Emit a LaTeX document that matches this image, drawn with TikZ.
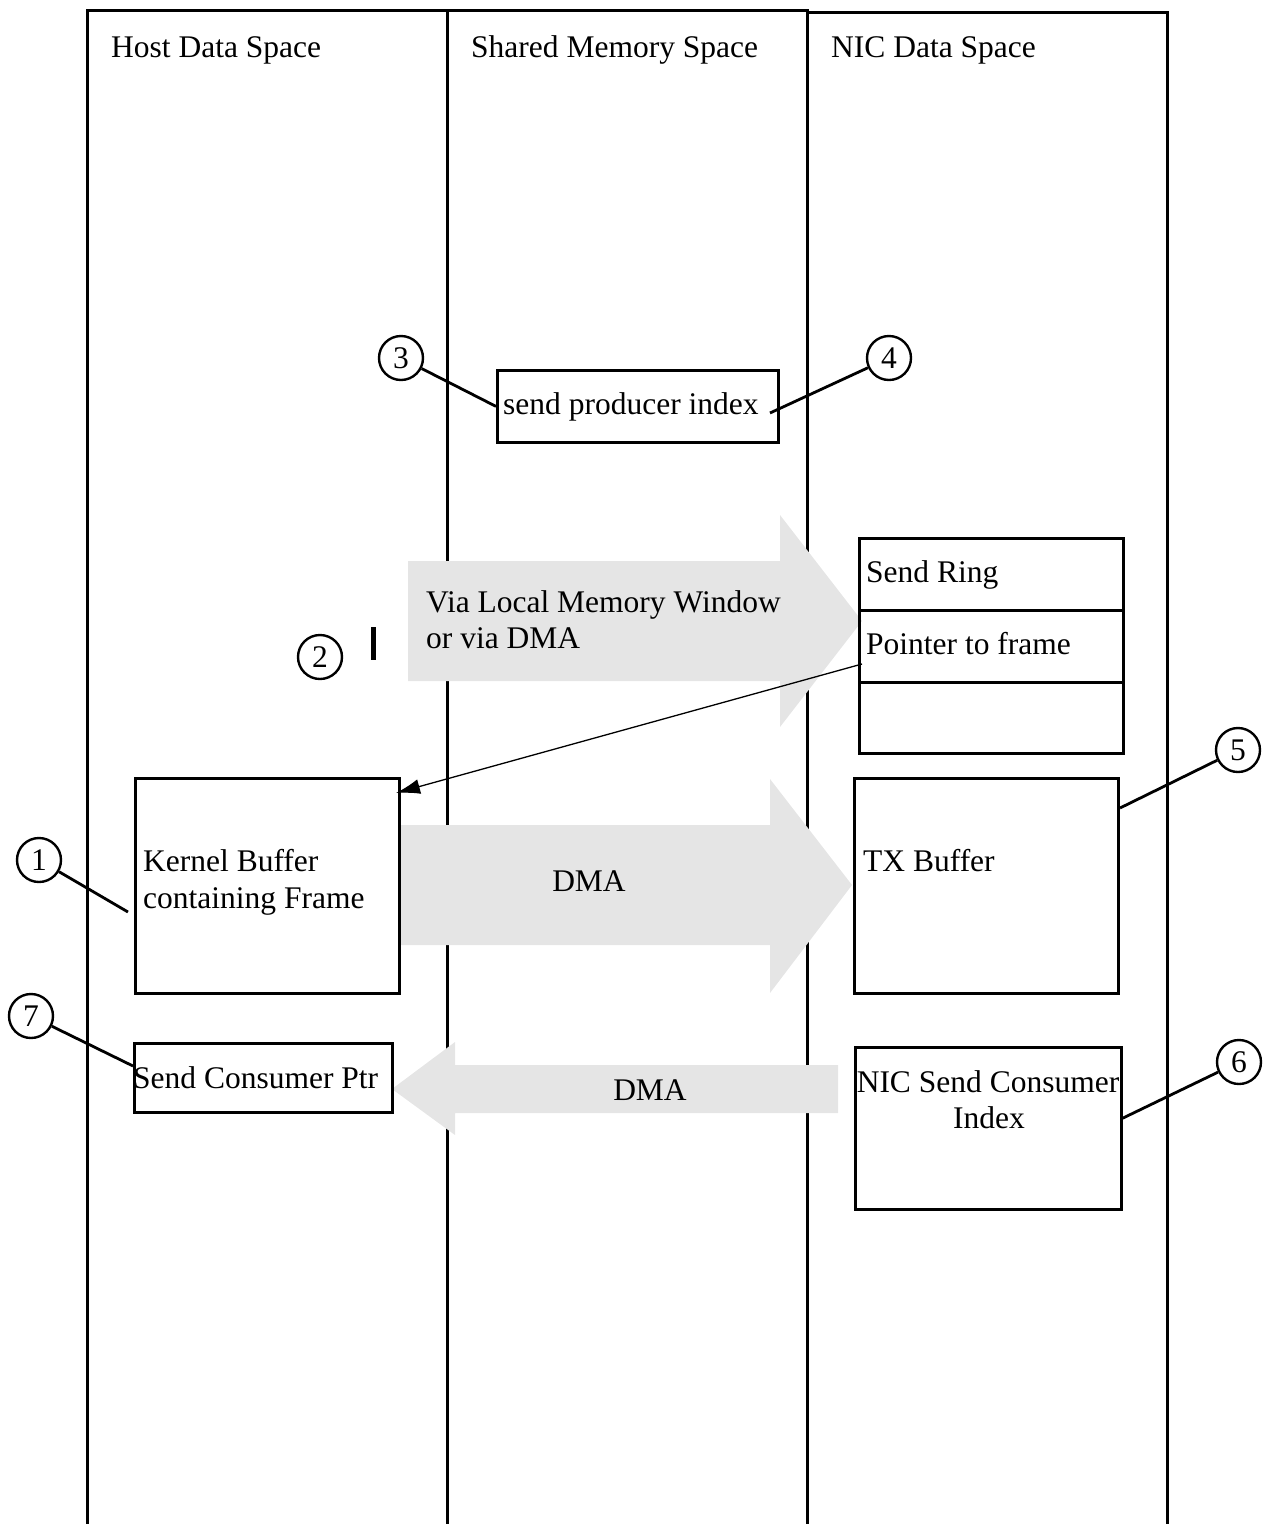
\documentclass[tikz,border=0pt]{standalone}
\usepackage{fontspec}
\setmainfont{Liberation Serif}
\usetikzlibrary{arrows.meta}
\definecolor{arrowgrey}{RGB}{229,229,229}
\tikzset{
  lane/.style={line width=3pt},
  boxed/.style={draw, line width=2.8pt, rectangle, inner sep=0pt, anchor=north west},
  txt/.style={anchor=base west, inner sep=0pt, font=\fontsize{31.5}{37}\selectfont},
  ctxt/.style={anchor=base, inner sep=0pt, font=\fontsize{31.5}{37}\selectfont},
  num/.style={draw, circle, line width=2.4pt, minimum size=44pt, inner sep=0pt, font=\fontsize{31.5}{37}\selectfont},
  callout/.style={line width=2.8pt},
  bigarrow/.style={fill=arrowgrey, draw=none},
  ptr/.style={line width=1.3pt, -{Latex[length=24pt,width=15pt]}}
}
\begin{document}
\begin{tikzpicture}[x=1pt,y=-1pt]
\useasboundingbox (0,0) rectangle (1270,1524);
% lanes
\draw[lane] (87,1524) -- (87,10) -- (447,10) -- (447,1524);
\draw[lane] (447,10) -- (807,10) -- (807,1524);
\draw[lane] (807,12) -- (1167,12) -- (1167,1524);
\node[txt] (h1) at (111,57) {Host Data Space};
\node[txt] (h2) at (471,57) {Shared Memory Space};
\node[txt] (h3) at (831,57) {NIC Data Space};

% grey arrows
\path[bigarrow] (408,561) -- (780,561) -- (780,515) -- (862,621) -- (780,727) -- (780,681) -- (408,681) -- cycle;
\path[bigarrow] (399,825) -- (770,825) -- (770,779) -- (852,885) -- (770,993) -- (770,945) -- (399,945) -- cycle;
\path[bigarrow] (838,1065) -- (455,1065) -- (455,1042) -- (392,1089) -- (455,1135) -- (455,1113) -- (838,1113) -- cycle;
\node[txt] (via1) at (426,612) {Via Local Memory Window};
\node[txt] (via2) at (426,648) {or via DMA};
\node[ctxt] (dma1) at (589,891) {DMA};
\node[ctxt] (dma2) at (650,1100) {DMA};

% boxes
\node[boxed, minimum width=281pt, minimum height=72pt] (spi) at (496,369) {};
\node[txt] (spit) at (503,414) {send producer index};
\node[boxed, minimum width=264pt, minimum height=72pt] (sr) at (858,537) {};
\node[boxed, minimum width=264pt, minimum height=72pt] (pf) at (858,609) {};
\node[boxed, minimum width=264pt, minimum height=71pt] (em) at (858,681) {};
\node[txt] (srt) at (866,582) {Send Ring};
\node[txt] (pft) at (866,654) {Pointer to frame};
\node[boxed, minimum width=264pt, minimum height=215pt] (kb) at (134,777) {};
\node[txt] (kbt1) at (143,871) {Kernel Buffer};
\node[txt] (kbt2) at (143,908) {containing Frame};
\node[boxed, minimum width=264pt, minimum height=215pt] (tx) at (853,777) {};
\node[txt] (txt1) at (863,871) {TX Buffer};
\node[boxed, minimum width=258pt, minimum height=69pt] (scp) at (133,1042) {};
\node[txt] (scpt) at (133,1088) {Send Consumer Ptr};
\node[boxed, minimum width=266pt, minimum height=162pt] (nsc) at (854,1046) {};
\node[ctxt] (nsct1) at (988,1092) {NIC Send Consumer};
\node[ctxt] (nsct2) at (989,1128) {Index};

% pointer arrow
\coordinate (pstart) at (862,664);
\coordinate (pend) at (396,793);
\draw[ptr] (pstart) -- (pend);

% bar near 2
\fill (371,627) rectangle (376,660);

% numbered circles
\node[num] (c1) at (39,860) {1};
\node[num] (c2) at (320,657) {2};
\node[num] (c3) at (401,358) {3};
\node[num] (c4) at (889,358) {4};
\node[num] (c5) at (1238,750) {5};
\node[num] (c6) at (1239,1062) {6};
\node[num] (c7) at (31,1016) {7};

\coordinate (e1) at (128,912);
\coordinate (e4) at (770,413);
\coordinate (e5) at (1120,808);
\coordinate (e6) at (1121,1119);
\coordinate (e7) at (133,1066);
\draw[callout] (c3) -- (spi.west);
\draw[callout] (c4) -- (e4);
\draw[callout] (c1) -- (e1);
\draw[callout] (c7) -- (e7);
\draw[callout] (c5) -- (e5);
\draw[callout] (c6) -- (e6);
\end{tikzpicture}
\end{document}
